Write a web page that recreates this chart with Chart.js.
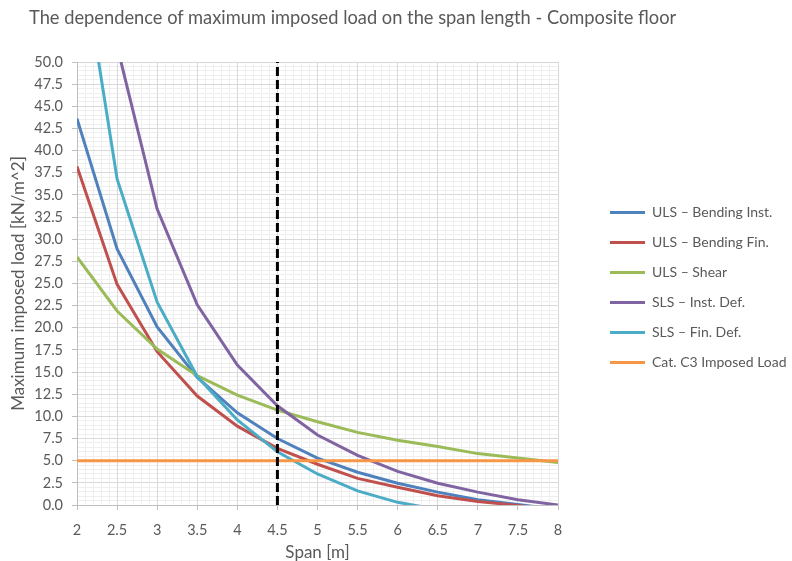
<!DOCTYPE html>
<html>
<head>
<meta charset="utf-8">
<script src="https://cdn.jsdelivr.net/npm/chart.js@4.4.0/dist/chart.umd.min.js"></script>
<style>
  html, body { margin: 0; padding: 0; background: #fff; }
  #wrap { position: relative; width: 792px; height: 561px; }
  #chart { position: absolute; left: 0; top: 0; }
  #title {
    position: absolute; left: 29px; top: 6px; z-index: 2;
    font-family: Lato, sans-serif; font-size: 18.3px; color: #595959; white-space: nowrap;
  }
</style>
</head>
<body>
<div id="wrap">
  <canvas id="chart" width="792" height="561"></canvas>
  <div id="title">The dependence of maximum imposed load on the span length - Composite floor</div>
</div>
<script>
'use strict';

// span [m]
var spans = [2, 2.5, 3, 3.5, 4, 4.5, 5, 5.5, 6, 6.5, 7, 7.5, 8];

// max imposed load [kN/m^2]
var ulsBendInst = [43.6, 28.9, 20.1, 14.4, 10.4, 7.5, 5.3, 3.7, 2.45, 1.45, 0.6, 0.05, -0.5];
var ulsBendFin  = [38.2, 24.9, 17.3, 12.3, 8.9, 6.4, 4.6, 3.0, 2.0, 1.05, 0.4, -0.05, -0.6];
var ulsShear    = [28.0, 21.9, 17.6, 14.6, 12.4, 10.7, 9.4, 8.2, 7.3, 6.6, 5.8, 5.3, 4.8];
var slsInstDef  = [80.0, 51.8, 33.4, 22.6, 15.8, 11.2, 7.9, 5.6, 3.8, 2.45, 1.45, 0.6, 0.0];
var slsFinDef   = [65.5, 36.8, 22.9, 14.5, 9.6, 6.0, 3.5, 1.6, 0.3, -0.5, null, null, null];
var catC3       = [5, 5, 5, 5, 5, 5, 5, 5, 5, 5, 5, 5, 5];

// chosen span marker
var markX = [4.5, 4.5];
var markY = [0, 50];

var seriesNames = ['ULS \u2013 Bending Inst.', 'ULS \u2013 Bending Fin.', 'ULS \u2013 Shear',
                   'SLS \u2013 Inst. Def.', 'SLS \u2013 Fin. Def.', 'Cat. C3 Imposed Load'];
var seriesColors = ['#4F81BD', '#C0504D', '#9BBB59', '#8064A2', '#4BACC6', '#F79646'];
var seriesValues = [ulsBendInst, ulsBendFin, ulsShear, slsInstDef, slsFinDef, catC3];

var grey = '#595959';
var fontName = 'Lato';

function pts(ys) {
    return spans.map(function(x, i) { return { x: x, y: ys[i] }; });
}

function onStep(v, step) {
    var k = v / step;
    return Math.abs(k - Math.round(k)) < 1e-6;
}

var datasets = seriesValues.map(function(vals, i) {
    return {
        label: seriesNames[i],
        data: pts(vals),
        borderColor: seriesColors[i],
        backgroundColor: seriesColors[i],
        borderWidth: 3,
        pointRadius: 0,
        tension: 0,
        order: seriesValues.length - i
    };
});

datasets.push({
    label: 'marker',
    data: markX.map(function(x, i) { return { x: x, y: markY[i] }; }),
    borderColor: '#000',
    borderWidth: 3,
    borderDash: [9, 4],
    pointRadius: 0,
    order: 0
});

var ctx = document.getElementById('chart').getContext('2d');
var chart = new Chart(ctx, {
    type: 'line',
    data: { datasets: datasets },
    options: {
        responsive: false,
        animation: false,
        layout: { padding: { top: 62, left: 0, right: 0, bottom: 0 } },
        plugins: {
            title: { display: false },
            tooltip: { enabled: false },
            legend: {
                position: 'right',
                fullSize: false,
                maxWidth: 198,
                // empty title only nudges the entries down a little
                title: { display: true, text: '', font: { size: 8, lineHeight: 1 }, padding: 0 },
                labels: {
                    usePointStyle: true,
                    pointStyle: 'line',
                    pointStyleWidth: 35,
                    padding: 16,
                    color: grey,
                    font: { family: fontName, size: 14 },
                    filter: function(item) { return item.datasetIndex < seriesNames.length; },
                    sort: function(a, b) { return a.datasetIndex - b.datasetIndex; }
                }
            }
        },
        scales: {
            x: {
                type: 'linear',
                position: 'bottom',
                min: 2,
                max: 8,
                ticks: {
                    stepSize: 0.5,
                    maxTicksLimit: 20,
                    padding: 12,
                    color: grey,
                    font: { family: fontName, size: 14.5 },
                    callback: function(v) { return String(v); }
                },
                grid: { color: '#d9d9d9', tickColor: '#bfbfbf', tickLength: 5 },
                border: { color: '#bfbfbf' },
                title: {
                    display: true,
                    text: 'Span [m]',
                    color: grey,
                    font: { family: fontName, size: 17, lineHeight: 1 },
                    padding: { top: 2, bottom: 0 }
                },
                afterFit: function(s) { s.height = 56; }
            },
            y: {
                type: 'linear',
                position: 'left',
                min: 0,
                max: 50,
                ticks: {
                    stepSize: 2.5,
                    maxTicksLimit: 30,
                    padding: 9,
                    color: grey,
                    font: { family: fontName, size: 14.5 },
                    callback: function(v) { return v.toFixed(1); }
                },
                grid: { color: '#d9d9d9', tickColor: '#bfbfbf', tickLength: 5 },
                border: { color: '#bfbfbf' },
                title: {
                    display: true,
                    text: 'Maximum imposed load [kN/m^2]',
                    color: grey,
                    font: { family: fontName, size: 17 },
                    padding: { top: 8, bottom: 2 }
                },
                afterFit: function(s) { s.width = 77; }
            },
            xm: {
                type: 'linear',
                axis: 'x',
                position: 'bottom',
                min: 2,
                max: 8,
                ticks: { display: false, stepSize: 0.1, maxTicksLimit: 100 },
                grid: {
                    z: -2,
                    drawTicks: false,
                    color: function(c) {
                        if (!c.tick || onStep(c.tick.value - 2, 0.5)) return 'rgba(0,0,0,0)';
                        return '#efefef';
                    }
                },
                border: { display: false }
            },
            ym: {
                type: 'linear',
                axis: 'y',
                position: 'right',
                min: 0,
                max: 50,
                ticks: { display: false, stepSize: 0.5, maxTicksLimit: 200 },
                grid: {
                    z: -2,
                    drawTicks: false,
                    color: function(c) {
                        if (!c.tick || onStep(c.tick.value, 2.5)) return 'rgba(0,0,0,0)';
                        return '#efefef';
                    }
                },
                border: { display: false },
                afterFit: function(s) { s.width = 36; }
            }
        }
    }
});
</script>
</body>
</html>
